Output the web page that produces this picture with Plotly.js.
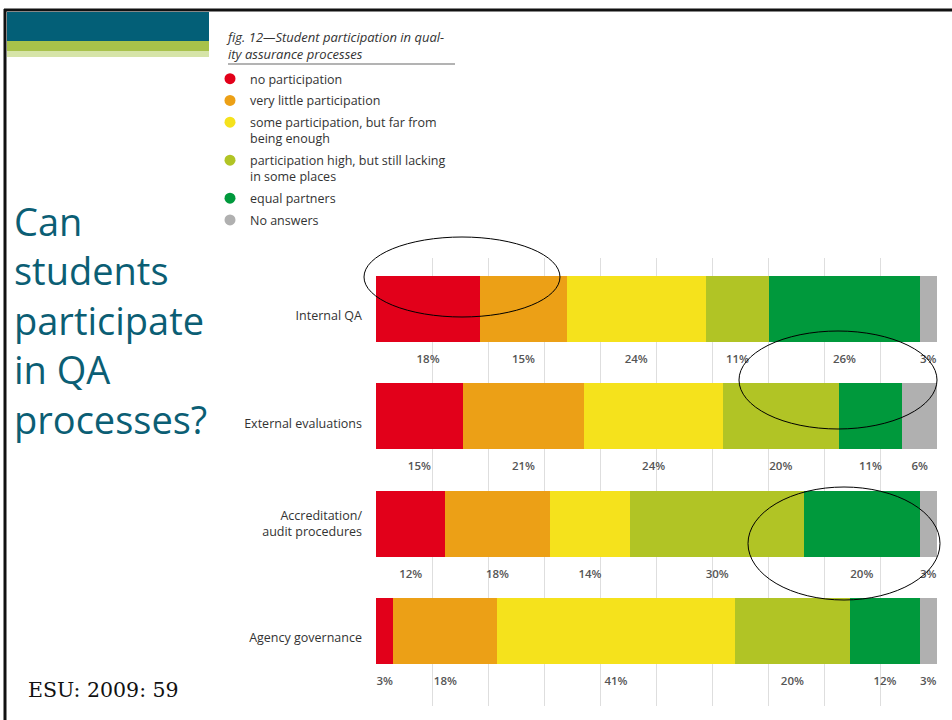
<!DOCTYPE html>
<html>
<head>
<meta charset="utf-8">
<script src="https://cdn.plot.ly/plotly-3.0.1.min.js"></script>
<style>html,body{margin:0;padding:0;background:#fff;}#chart{width:952px;height:720px;}</style>
</head>
<body>
<div id="chart"></div>
<script>
// ---- data ----
const categories = ['Internal QA', 'External evaluations', 'Accreditation/<br>audit procedures', 'Agency governance'];
const seriesNames = ['no participation', 'very little participation', 'some participation, but far from<br>being enough', 'participation high, but still lacking<br>in some places', 'equal partners', 'No answers'];
const noParticipation   = [18, 15, 12, 3];
const veryLittle        = [15, 21, 18, 18];
const someParticipation = [24, 24, 14, 41];
const highButLacking    = [11, 20, 30, 20];
const equalPartners     = [26, 11, 20, 12];
const noAnswers         = [3, 6, 3, 3];
const seriesColors = ['#e2001a', '#eca016', '#f5e21c', '#b1c425', '#00993c', '#b0b0b0'];
const headingLines = ['Can', 'students', 'participate', 'in QA', 'processes?'];

const series = [noParticipation, veryLittle, someParticipation, highButLacking, equalPartners, noAnswers];
const yIdx = categories.map((c, i) => i);

// ---- geometry helpers (pixel -> paper) ----
const PL = 376, PR = 937, PT = 258, PB = 706;
const px = x => (x - PL) / (PR - PL);
const py = y => (PB - y) / (PB - PT);

const traces = [];
series.forEach((vals, k) => {
  traces.push({
    type: 'bar', orientation: 'h', x: vals, y: yIdx, width: 0.615,
    marker: {color: seriesColors[k], line: {width: 0}},
    showlegend: false, hoverinfo: 'x', name: seriesNames[k]
  });
});
// legend entries (circle markers)
series.forEach((vals, k) => {
  traces.push({
    type: 'scatter', mode: 'markers', x: [null], y: [null], legendgroup: 'g' + k,
    marker: {color: seriesColors[k], size: 11, symbol: 'circle'},
    name: seriesNames[k], showlegend: true
  });
});
// percentage labels under each segment, at segment centres (normalised)
const lx = [], ly = [], lt = [];
categories.forEach((c, i) => {
  const total = series.reduce((s, v) => s + v[i], 0);
  let cum = 0;
  series.forEach(v => {
    const w = v[i] / total * 100;
    lx.push(cum + w / 2);
    ly.push(i + 0.475);
    lt.push(v[i] + '%');
    cum += w;
  });
});
traces.push({
  type: 'scatter', mode: 'text', x: lx, y: ly, text: lt, showlegend: false,
  textfont: {family: 'Open Sans', size: 11.5, color: '#555', weight: 600}, hoverinfo: 'skip', cliponaxis: false
});

const shapes = [
  // slide frame
  {type: 'line', xref: 'paper', yref: 'paper', x0: px(4), x1: px(952), y0: py(10), y1: py(10), line: {color: '#111', width: 3}},
  {type: 'line', xref: 'paper', yref: 'paper', x0: px(5), x1: px(5), y0: py(9), y1: py(720), line: {color: '#111', width: 3}},
  // header bars
  {type: 'rect', xref: 'paper', yref: 'paper', x0: px(7), x1: px(209), y0: py(12), y1: py(41), fillcolor: '#035f77', line: {width: 0}},
  {type: 'rect', xref: 'paper', yref: 'paper', x0: px(7), x1: px(209), y0: py(41), y1: py(51), fillcolor: '#a8c24a', line: {width: 0}},
  {type: 'rect', xref: 'paper', yref: 'paper', x0: px(7), x1: px(209), y0: py(51), y1: py(57), fillcolor: '#d6e4a8', line: {width: 0}},
  // figure title rule
  {type: 'line', xref: 'paper', yref: 'paper', x0: px(228), x1: px(455), y0: py(64), y1: py(64), line: {color: '#9a9a9a', width: 1.5}},
  // hand-drawn ellipses
  {type: 'circle', xref: 'paper', yref: 'paper', x0: px(364), x1: px(560), y0: py(237), y1: py(317), line: {color: '#000', width: 1}},
  {type: 'circle', xref: 'paper', yref: 'paper', x0: px(739), x1: px(937), y0: py(331), y1: py(429), line: {color: '#000', width: 1}},
  {type: 'circle', xref: 'paper', yref: 'paper', x0: px(748), x1: px(940), y0: py(487), y1: py(600), line: {color: '#000', width: 1}}
];

const annotations = [
  {xref: 'paper', yref: 'paper', x: px(224), y: py(26), xanchor: 'left', yanchor: 'top', align: 'left', showarrow: false,
   text: '<i>fig. 12—Student participation in qual-<br>ity assurance processes</i>',
   font: {family: 'Open Sans', size: 13, color: '#333'}},
  {xref: 'paper', yref: 'paper', x: px(12), y: py(320), xanchor: 'left', yanchor: 'middle', align: 'left', showarrow: false,
   text: headingLines.join('<br>'), font: {family: 'Open Sans', size: 38, color: '#0b5e74'}},
  {xref: 'paper', yref: 'paper', x: px(26), y: py(690), xanchor: 'left', yanchor: 'middle', align: 'left', showarrow: false,
   text: 'ESU: 2009: 59', font: {family: 'DejaVu Serif', size: 20.5, color: '#111'}}
];

const layout = {
  width: 952, height: 720,
  margin: {l: PL, r: 952 - PR, t: PT, b: 720 - PB, pad: 0},
  paper_bgcolor: '#fff', plot_bgcolor: '#fff',
  barmode: 'stack', barnorm: 'percent', bargap: 0,
  xaxis: {range: [0, 100], dtick: 10, tick0: 0, showgrid: true, gridcolor: '#dedede', gridwidth: 1,
          showticklabels: false, zeroline: false, showline: false, ticks: ''},
  yaxis: {range: [3.699, -0.475], tickmode: 'array',
          tickvals: yIdx.map(i => categories[i].includes('<br>') ? i : i + 0.065), ticktext: categories,
          showgrid: false, zeroline: false, showline: false, ticks: '', ticklabelstandoff: 13,
          tickfont: {family: 'Open Sans', size: 12.5, color: '#333'}},
  showlegend: true,
  legend: {x: px(210), y: py(64), xanchor: 'left', yanchor: 'top', valign: 'top',
           font: {family: 'Open Sans', size: 12.5, color: '#333'}, bgcolor: 'rgba(0,0,0,0)',
           tracegroupgap: 2.5, traceorder: 'grouped'},
  shapes: shapes, annotations: annotations,
  font: {family: 'Open Sans'}
};

Plotly.newPlot('chart', traces, layout, {displayModeBar: false, staticPlot: true});
</script>
</body>
</html>
